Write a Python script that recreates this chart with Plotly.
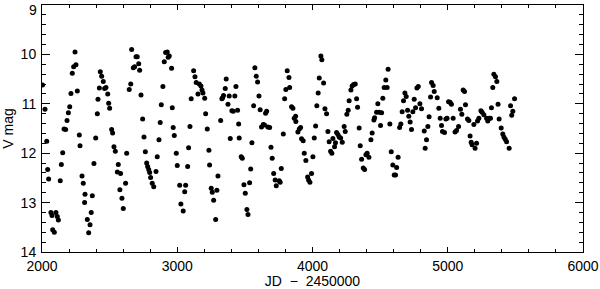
import plotly.graph_objects as go

# Light curve (JD - 2450000, V magnitude)
jd = [
    2004, 2022, 2035, 2042, 2049, 2066, 2074, 2079, 2091, 2103, 2113, 2121,
    2135, 2143, 2153, 2163, 2175, 2185, 2195, 2205, 2214, 2224, 2234, 2244,
    2251, 2261, 2276, 2281, 2296, 2305, 2315, 2318, 2335, 2345, 2355, 2364,
    2372, 2384, 2397, 2409, 2414, 2424, 2431, 2441, 2453, 2463, 2473, 2486,
    2493, 2500, 2515, 2522, 2532, 2542, 2557, 2564, 2576, 2581, 2591, 2601,
    2618, 2626, 2645, 2656, 2663, 2675, 2685, 2695, 2704, 2715, 2722, 2732,
    2744, 2754, 2764, 2774, 2781, 2789, 2796, 2803, 2815, 2826, 2843, 2852,
    2865, 2874, 2882, 2894, 2904, 2914, 2926, 2933, 2941, 2958, 2963, 2970,
    2978, 2993, 3000, 3018, 3027, 3044, 3055, 3062, 3077, 3084, 3094, 3103,
    3121, 3131, 3140, 3153, 3163, 3175, 3183, 3190, 3203, 3210, 3222, 3234,
    3239, 3251, 3259, 3269, 3284, 3293, 3301, 3321, 3330, 3335, 3342, 3355,
    3362, 3375, 3384, 3392, 3404, 3414, 3426, 3434, 3446, 3454, 3458, 3473,
    3481, 3493, 3503, 3515, 3523, 3535, 3543, 3552, 3565, 3574, 3584, 3594,
    3604, 3613, 3623, 3636, 3645, 3653, 3661, 3670, 3683, 3693, 3702, 3713,
    3724, 3732, 3754, 3761, 3769, 3784, 3794, 3803, 3813, 3826, 3831, 3845,
    3855, 3865, 3875, 3877, 3892, 3902, 3912, 3919, 3931, 3939, 3951, 3964,
    3971, 3981, 3993, 4003, 4013, 4023, 4032, 4042, 4050, 4062, 4069, 4082,
    4092, 4104, 4114, 4123, 4134, 4143, 4151, 4163, 4170, 4178, 4188, 4197,
    4208, 4220, 4234, 4242, 4254, 4264, 4271, 4284, 4293, 4304, 4316, 4326,
    4333, 4345, 4353, 4363, 4375, 4385, 4395, 4404, 4417, 4432, 4441, 4454,
    4459, 4474, 4483, 4493, 4503, 4511, 4520, 4530, 4542, 4552, 4559, 4572,
    4582, 4594, 4604, 4614, 4622, 4633, 4644, 4653, 4663, 4673, 4683, 4693,
    4703, 4712, 4722, 4732, 4742, 4752, 4762, 4772, 4782, 4794, 4806, 4826,
    4833, 4843, 4853, 4862, 4873, 4880, 4892, 4900, 4922, 4934, 4944, 4954,
    4961, 4976, 4986, 4995, 5006, 5017, 5027, 5040, 5054, 5065, 5080, 5094,
    5104, 5114, 5124, 5131, 5146, 5156, 5165, 5173, 5180, 5193, 5202, 5213,
    5220, 5230, 5245, 5254, 5267, 5287, 5296, 5306, 5316, 5323, 5333, 5341,
    5353, 5363, 5372, 5380, 5395, 5407, 5415, 5425, 5435, 5454, 5464, 5473,
    5481, 5494,
]
vmag = [
    10.62, 11.11, 11.76, 12.33, 12.52, 13.20, 13.26, 13.55, 13.60, 13.20, 13.28, 13.35,
    12.56, 12.23, 11.99, 11.51, 11.52, 11.34, 11.18, 11.06, 10.79, 10.38, 10.25, 9.95,
    10.21, 10.74, 11.63, 11.85, 12.46, 12.61, 13.00, 12.83, 13.34, 13.61, 13.45, 13.20,
    12.86, 12.21, 11.69, 11.20, 10.91, 10.68, 10.35, 10.44, 10.55, 10.69, 10.67, 10.80,
    10.99, 11.09, 11.52, 11.59, 11.87, 11.96, 12.38, 12.23, 12.74, 12.41, 12.91, 13.12,
    12.61, 12.00, 10.71, 10.60, 9.90, 10.27, 10.25, 10.05, 10.05, 10.19, 10.32, 10.82,
    11.31, 11.67, 11.97, 12.20, 12.27, 12.33, 12.39, 12.49, 12.61, 12.68, 12.37, 12.07,
    11.73, 11.38, 11.02, 10.65, 10.15, 9.96, 9.95, 10.06, 10.03, 10.28, 11.08, 11.48,
    11.64, 12.00, 12.25, 12.65, 13.03, 13.17, 12.78, 12.65, 12.27, 11.89, 11.46, 10.90,
    10.33, 10.45, 10.57, 10.80, 10.60, 10.64, 10.72, 10.78, 10.89, 11.20, 11.51, 11.94,
    12.24, 12.71, 12.79, 12.95, 13.34, 12.75, 12.46, 11.34, 10.90, 10.88, 10.83, 10.69,
    10.50, 11.01, 10.84, 11.70, 11.14, 11.15, 10.84, 10.65, 11.13, 11.41, 11.69, 12.07,
    12.10, 12.64, 12.81, 13.14, 13.24, 12.60, 12.32, 11.79, 11.04, 10.27, 10.44, 10.56,
    10.84, 11.12, 11.47, 11.42, 11.43, 11.19, 11.15, 11.47, 11.48, 11.88, 12.10, 12.41,
    12.54, 12.66, 12.56, 12.59, 12.31, 11.61, 10.90, 10.71, 10.33, 10.47, 10.67, 11.06,
    11.09, 11.29, 11.25, 11.36, 11.57, 11.51, 11.48, 11.71, 11.75, 12.00, 12.15, 12.48,
    12.54, 12.59, 12.41, 12.07, 11.69, 11.45, 11.04, 10.78, 10.48, 10.03, 10.11, 10.58,
    11.10, 11.20, 11.56, 11.77, 11.96, 12.00, 11.70, 11.87, 11.79, 11.58, 11.62, 11.67,
    11.69, 11.78, 11.46, 11.56, 11.21, 11.13, 10.94, 10.72, 10.64, 10.61, 10.60, 10.90,
    11.07, 11.49, 11.85, 12.12, 12.30, 12.33, 12.03, 12.00, 12.08, 11.73, 11.59, 11.33,
    11.28, 11.17, 11.00, 11.17, 11.44, 11.18, 10.89, 10.67, 10.52, 10.67, 10.30, 11.41,
    11.97, 12.24, 12.44, 12.44, 12.29, 12.08, 11.48, 11.41, 11.16, 10.94, 10.78, 10.85,
    11.13, 11.25, 11.37, 11.52, 11.16, 10.91, 11.08, 10.68, 10.65, 11.00, 11.10, 11.55,
    11.90, 11.73, 11.46, 11.26, 10.86, 10.57, 10.63, 10.75, 10.88, 11.09, 11.29, 11.44,
    11.56, 11.58, 11.31, 11.29, 10.96, 10.97, 11.01, 11.29, 11.57, 11.54, 11.46, 11.11,
    11.21, 10.72, 10.75, 11.02, 11.31, 11.34, 11.65, 11.78, 11.83, 11.42, 11.90, 11.80,
    11.35, 11.29, 11.14, 11.17, 11.22, 11.29, 11.35, 11.29, 11.29, 11.08, 10.67, 10.40,
    10.45, 10.55, 11.01, 11.31, 11.49, 11.61, 11.67, 11.72, 11.77, 11.90, 11.04, 11.23,
    11.15, 10.90,
]

# y tick labels; the top one ("9") is drawn separately so it is not clipped
ytick_vals = [9, 10, 11, 12, 13, 14]
ytick_text = ["", "10", "11", "12", "13", "14"]
top_label = "9"

fig = go.Figure()

fig.add_trace(go.Scatter(
    x=jd, y=vmag,
    mode='markers',
    marker=dict(color='black', size=5),
    showlegend=False,
))

axis_font = dict(family="Liberation Sans, Arial, sans-serif", size=14, color="black")

fig.update_layout(
    width=600, height=289,
    margin=dict(l=42, r=17, t=5, b=37),
    paper_bgcolor="white",
    plot_bgcolor="white",
    font=axis_font,
    xaxis=dict(
        range=[2000, 6000], dtick=1000, tick0=2000,
        ticks="inside", ticklen=5, tickcolor="black", tickwidth=1,
        minor=dict(dtick=200, ticks="inside", ticklen=3, tickcolor="black"),
        showline=True, linecolor="black", linewidth=1, mirror="allticks",
        showgrid=False, zeroline=False, automargin=False,
        ticklabeloverflow="allow", ticklabelstandoff=1,
        title=dict(text="JD\u00a0\u00a0−\u00a0\u00a02450000", font=dict(size=14), standoff=0),
    ),
    yaxis=dict(
        range=[14, 9], tickmode="array", tickvals=ytick_vals, ticktext=ytick_text,
        ticks="inside", ticklen=8, tickcolor="black", tickwidth=1,
        minor=dict(dtick=0.2, ticks="inside", ticklen=4, tickcolor="black"),
        showline=True, linecolor="black", linewidth=1, mirror="allticks",
        showgrid=False, zeroline=False, automargin=False,
        ticklabeloverflow="allow", ticklabelstandoff=2,
        title=dict(text="V mag", font=dict(size=14), standoff=4),
    ),
)

fig.add_annotation(
    x=0, xref="paper", xanchor="right", xshift=-3,
    y=ytick_vals[0], yref="y", yanchor="top", yshift=5,
    text=top_label, showarrow=False, font=axis_font,
)

# the page's default body margin would push the 600x289 figure off the window
fig.write_html("out.html", config={"displayModeBar": False},
               post_script="document.body.style.margin = '0';")
